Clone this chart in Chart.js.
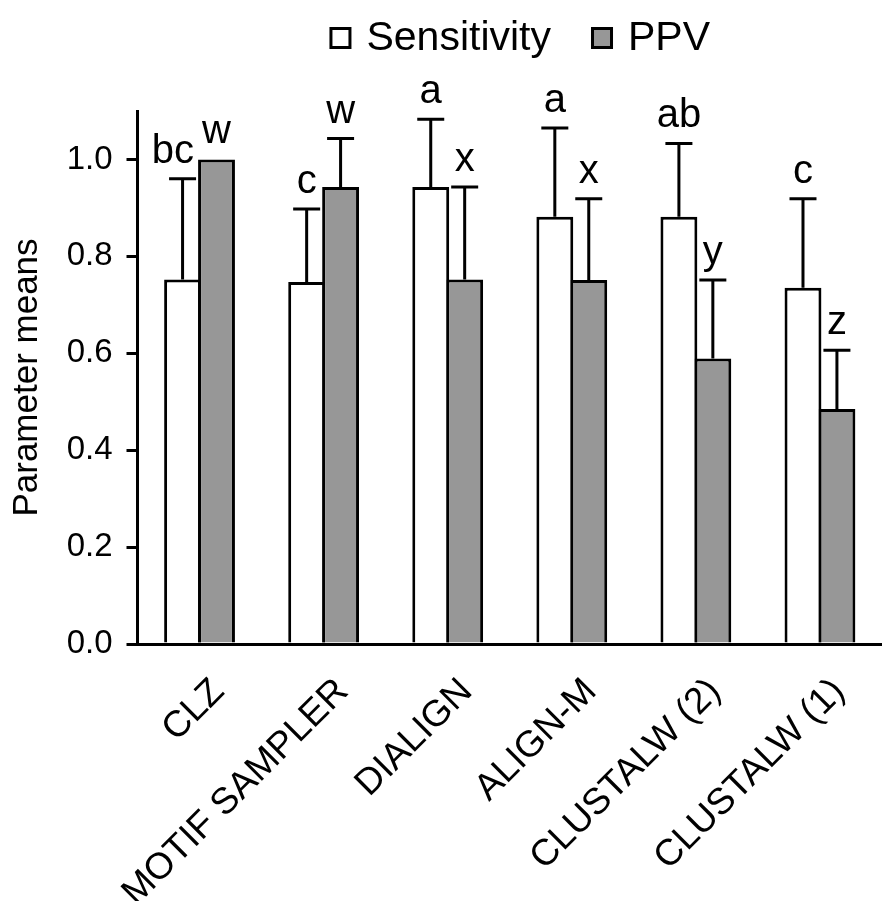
<!DOCTYPE html>
<html>
<head>
<meta charset="utf-8">
<script src="https://cdn.jsdelivr.net/npm/chart.js@4.4.0/dist/chart.umd.min.js"></script>
<style>
  html, body { margin: 0; padding: 0; background: #fff; }
</style>
</head>
<body>
<canvas id="chart" width="882" height="901"></canvas>
<script>
// Data
const methods = ['CLZ', 'MOTIF SAMPLER', 'DIALIGN', 'ALIGN-M', 'CLUSTALW (2)', 'CLUSTALW (1)'];
const sensitivity = [0.752, 0.747, 0.943, 0.882, 0.882, 0.735];
const sensitivityErr = [0.208, 0.151, 0.140, 0.183, 0.151, 0.184];
const sensitivityGroups = ['bc', 'c', 'a', 'a', 'ab', 'c'];
const ppv = [1.0, 0.943, 0.752, 0.751, 0.589, 0.485];
const ppvErr = [0, 0.100, 0.191, 0.168, 0.162, 0.121];
const ppvGroups = ['w', 'w', 'x', 'x', 'y', 'z'];
const yTicks = [0, 0.2, 0.4, 0.6, 0.8, 1.0];

const FONT = "'Liberation Sans', Arial, Helvetica, sans-serif";

// error bars + significance letters
const errorBars = {
  id: 'errorBars',
  afterDatasetsDraw(chart) {
    const ctx = chart.ctx;
    const y = chart.scales.y;
    ctx.save();
    ctx.font = '40px ' + FONT;
    // work out the letter positions first so neighbours don't collide
    const labels = chart.data.datasets.map((ds, di) =>
      chart.getDatasetMeta(di).data.map((bar, i) => {
        const top = y.getPixelForValue(ds.data[i] + ds.errors[i]);
        return { bar, top, text: ds.groups[i], x: bar.x, w: ctx.measureText(ds.groups[i]).width, err: ds.errors[i] };
      })
    );
    labels[0].forEach((l, i) => {
      const r = labels[1][i];
      const overlap = (l.x + l.w / 2) - (r.x - r.w / 2) + 8;
      if (overlap > 0 && Math.abs(l.top - r.top) < 40) l.x -= overlap;
    });
    labels.flat().forEach(l => {
      ctx.strokeStyle = '#000';
      ctx.lineWidth = 3;
      if (l.err > 0) {
        ctx.beginPath();
        ctx.moveTo(l.bar.x, l.bar.y);
        ctx.lineTo(l.bar.x, l.top);
        ctx.moveTo(l.bar.x - 13.5, l.top);
        ctx.lineTo(l.bar.x + 13.5, l.top);
        ctx.stroke();
      }
      ctx.fillStyle = '#000';
      ctx.textAlign = 'center';
      ctx.textBaseline = 'alphabetic';
      ctx.fillText(l.text, l.x, l.top - 16);
    });
    ctx.restore();
  }
};

// legend on top, centred over the plot
const topLegend = {
  id: 'topLegend',
  afterDraw(chart) {
    const ctx = chart.ctx;
    const area = chart.chartArea;
    ctx.save();
    ctx.font = '41px ' + FONT;
    const box = 22, gap = 15, between = 40;
    const items = chart.data.datasets.map(ds => ({ text: ds.label, fill: ds.backgroundColor, w: ctx.measureText(ds.label).width }));
    let total = 0;
    items.forEach((it, k) => { total += box + gap + it.w + (k ? between : 0); });
    let x = (area.left + area.right) / 2 - total / 2 + 10;
    items.forEach(it => {
      ctx.fillStyle = it.fill;
      ctx.fillRect(x, 27, box, box);
      ctx.strokeStyle = '#000';
      ctx.lineWidth = 3;
      ctx.strokeRect(x + 1.5, 27 + 1.5, box - 3, box - 3);
      ctx.fillStyle = '#000';
      ctx.textBaseline = 'alphabetic';
      ctx.fillText(it.text, x + box + gap, 50);
      x += box + gap + it.w + between;
    });
    ctx.restore();
  }
};

new Chart(document.getElementById('chart'), {
  type: 'bar',
  data: {
    labels: methods,
    datasets: [
      { label: 'Sensitivity', data: sensitivity, errors: sensitivityErr, groups: sensitivityGroups,
        backgroundColor: '#ffffff', borderColor: '#000', borderWidth: 3,
        categoryPercentage: 0.547, barPercentage: 1.087 },
      { label: 'PPV', data: ppv, errors: ppvErr, groups: ppvGroups,
        backgroundColor: '#979797', borderColor: '#000', borderWidth: 3,
        categoryPercentage: 0.547, barPercentage: 1.087 }
    ]
  },
  options: {
    responsive: false,
    animation: false,
    devicePixelRatio: 1,
    layout: { padding: { top: 111, right: -12, left: 0, bottom: 0 } },
    plugins: { legend: { display: false }, tooltip: { enabled: false } },
    scales: {
      x: {
        grid: { display: false, drawTicks: false },
        border: { display: true, color: '#000', width: 3 },
        ticks: {
          color: '#000', font: { family: FONT, size: 37 },
          minRotation: 45, maxRotation: 45, autoSkip: false,
          labelOffset: 19, padding: 26
        },
        afterFit: s => { s.height = 257; }
      },
      y: {
        min: 0, max: 1.1,
        afterBuildTicks: s => { s.ticks = yTicks.map(v => ({ value: v })); },
        ticks: { color: '#000', font: { family: FONT, size: 33 }, padding: 14,
                 callback: v => v.toFixed(1) },
        grid: { drawOnChartArea: false, drawTicks: true, tickLength: 11, color: '#000', lineWidth: 3 },
        border: { color: '#000', width: 3 },
        title: { display: true, text: 'Parameter means', color: '#000',
                 font: { family: FONT, size: 35 }, padding: { top: 6, bottom: 0 } },
        afterFit: s => { s.width = 137.5; }
      }
    }
  },
  plugins: [errorBars, topLegend]
});
</script>
</body>
</html>
